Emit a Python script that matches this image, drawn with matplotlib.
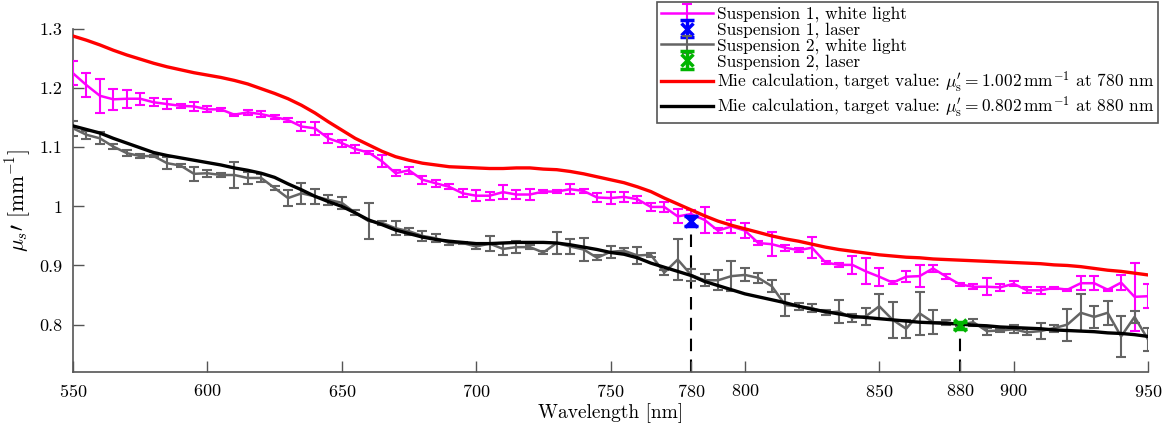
import numpy as np
from matplotlib import pyplot as plt

# Plot parameters
params = {"font.size": 13, "font.family": "serif", "font.serif": ["cmr10"],
          "mathtext.fontset": "cm", "axes.formatter.use_mathtext": True,
          "axes.unicode_minus": False}
plt.rcParams.update(params)

# wavelength grid of the measurements [nm]
wl = np.arange(550, 951, 5)

# Suspension 1, white light
s1_white = [1.225, 1.205, 1.187, 1.181, 1.182, 1.182, 1.176, 1.173, 1.170, 1.169,
            1.164, 1.164, 1.155, 1.159, 1.156, 1.151, 1.146, 1.135, 1.132, 1.115,
            1.107, 1.097, 1.091, 1.076, 1.056, 1.061, 1.045, 1.039, 1.033, 1.022,
            1.018, 1.018, 1.024, 1.020, 1.020, 1.025, 1.025, 1.029, 1.026, 1.015,
            1.014, 1.016, 1.012, 0.999, 0.999, 0.983, 0.987, 0.977, 0.959, 0.966,
            0.959, 0.938, 0.936, 0.930, 0.926, 0.930, 0.905, 0.901, 0.901, 0.890,
            0.881, 0.871, 0.881, 0.882, 0.895, 0.881, 0.868, 0.864, 0.864, 0.863,
            0.869, 0.858, 0.858, 0.862, 0.859, 0.870, 0.870, 0.859, 0.871, 0.847,
            0.848]
s1_white_err = [.020, .020, .029, .018, .015, .010, .007, .009, .003, .008,
                .005, .003, .002, .004, .005, .003, .004, .008, .011, .008,
                .006, .006, .003, .010, .005, .006, .007, .006, .004, .007,
                .009, .007, .012, .008, .010, .003, .002, .008, .003, .007,
                .010, .008, .006, .007, .008, .012, .006, .022, .004, .011,
                .012, .003, .020, .005, .004, .018, .003, .004, .015, .022,
                .015, .003, .009, .018, .006, .004, .003, .004, .014, .006,
                .004, .005, .006, .002, .002, .012, .012, .002, .013, .058,
                .020]

# Suspension 2, white light
s2_white = [1.132, 1.121, 1.115, 1.101, 1.090, 1.085, 1.085, 1.073, 1.069, 1.055,
            1.056, 1.053, 1.053, 1.048, 1.048, 1.031, 1.014, 1.022, 1.017, 1.011,
            1.006, 0.989, 0.975, 0.972, 0.963, 0.958, 0.950, 0.946, 0.938, 0.938,
            0.932, 0.937, 0.928, 0.931, 0.931, 0.922, 0.938, 0.932, 0.927, 0.913,
            0.923, 0.925, 0.917, 0.918, 0.888, 0.910, 0.884, 0.875, 0.875, 0.882,
            0.884, 0.879, 0.865, 0.833, 0.831, 0.828, 0.820, 0.822, 0.811, 0.814,
            0.831, 0.808, 0.793, 0.819, 0.804, 0.804, 0.800, 0.804, 0.789, 0.790,
            0.792, 0.787, 0.789, 0.794, 0.800, 0.820, 0.813, 0.820, 0.780, 0.813,
            0.775]
s2_white_err = [.013, .007, .010, .004, .005, .003, .002, .010, .003, .012,
                .006, .004, .022, .010, .006, .004, .013, .018, .013, .008,
                .010, .004, .030, .004, .012, .006, .008, .007, .004, .002,
                .004, .012, .010, .010, .003, .002, .018, .012, .020, .004,
                .010, .004, .015, .003, .004, .035, .010, .010, .017, .025,
                .011, .008, .010, .019, .006, .006, .004, .019, .007, .014,
                .021, .031, .015, .036, .020, .004, .003, .006, .006, .003,
                .007, .005, .013, .006, .027, .031, .018, .020, .035, .010,
                .020]

# laser measurements
laser_wl = [780, 880]
laser_val = [0.975, 0.799]
laser_err = [0.008, 0.006]

# Mie calculations [1/mm], same wavelength grid
mie_780 = [1.288, 1.281, 1.273, 1.264, 1.256, 1.249, 1.242, 1.236, 1.231, 1.226,
           1.222, 1.218, 1.213, 1.207, 1.199, 1.191, 1.182, 1.171, 1.158, 1.143,
           1.129, 1.115, 1.104, 1.093, 1.084, 1.078, 1.073, 1.070, 1.067, 1.066,
           1.065, 1.064, 1.064, 1.065, 1.065, 1.063, 1.062, 1.059, 1.055, 1.050,
           1.045, 1.040, 1.033, 1.025, 1.014, 1.004, 0.994, 0.984, 0.975, 0.968,
           0.962, 0.956, 0.950, 0.945, 0.941, 0.936, 0.931, 0.927, 0.924, 0.921,
           0.918, 0.916, 0.914, 0.913, 0.911, 0.910, 0.909, 0.908, 0.907, 0.906,
           0.905, 0.904, 0.903, 0.901, 0.900, 0.898, 0.895, 0.892, 0.890, 0.887,
           0.884]
mie_880 = [1.136, 1.130, 1.124, 1.115, 1.107, 1.099, 1.091, 1.086, 1.082, 1.078,
           1.074, 1.070, 1.065, 1.061, 1.056, 1.049, 1.038, 1.028, 1.017, 1.008,
           1.000, 0.989, 0.977, 0.969, 0.960, 0.954, 0.948, 0.944, 0.941, 0.939,
           0.937, 0.937, 0.938, 0.939, 0.939, 0.939, 0.938, 0.935, 0.931, 0.927,
           0.922, 0.919, 0.913, 0.904, 0.897, 0.890, 0.883, 0.873, 0.866, 0.859,
           0.852, 0.847, 0.842, 0.837, 0.831, 0.826, 0.822, 0.818, 0.814, 0.812,
           0.810, 0.808, 0.806, 0.804, 0.803, 0.802, 0.801, 0.799, 0.798, 0.796,
           0.795, 0.794, 0.793, 0.791, 0.790, 0.789, 0.788, 0.786, 0.785, 0.783,
           0.780]

xticks = [550, 600, 650, 700, 750, 780, 800, 850, 880, 900, 950]
yticks = [0.8, 0.9, 1.0, 1.1, 1.2, 1.3]
yticklabels = ['0.8', '0.9', '1', '1.1', '1.2', '1.3']

magenta = '#FF00FF'
gray = '#646464'
blue = '#0000FF'
green = '#00B400'
red = '#FF0000'
axcol = '#555555'

fig = plt.figure(figsize=(11.63, 4.26), dpi=100)
ax = fig.add_axes([0.0628, 0.127, 0.9243, 0.805])

# dashed guides down to the axis at the laser wavelengths
for w, v in zip(laser_wl, laser_val):
    ax.plot([w, w], [0.72, v], '--', color='black', lw=1.5, dashes=(6, 4), zorder=1)

h1 = ax.errorbar(wl, s1_white, yerr=s1_white_err, color=magenta, lw=1.8, elinewidth=1.5,
                 capsize=3.5, capthick=1.5, label='Suspension 1, white light', zorder=3)
h2 = ax.errorbar(laser_wl[0], laser_val[0], yerr=laser_err[0], fmt='x', color=blue, ms=8,
                 mew=2.5, elinewidth=2.5, capsize=5, capthick=2.5,
                 label='Suspension 1, laser', zorder=6)
h3 = ax.errorbar(wl, s2_white, yerr=s2_white_err, color=gray, lw=1.8, elinewidth=1.5,
                 capsize=3.5, capthick=1.5, label='Suspension 2, white light', zorder=3)
h4 = ax.errorbar(laser_wl[1], laser_val[1], yerr=laser_err[1], fmt='x', color=green, ms=8,
                 mew=2.5, elinewidth=2.5, capsize=5, capthick=2.5,
                 label='Suspension 2, laser', zorder=6)
h5, = ax.plot(wl, mie_780, color=red, lw=2.4, zorder=4,
              label=r'Mie calculation, target value: $\mu_\mathrm{s}^{\prime} = 1.002\,\mathrm{mm}^{-1}$ at 780 nm')
h6, = ax.plot(wl, mie_880, color='black', lw=2.4, zorder=4,
              label=r'Mie calculation, target value: $\mu_\mathrm{s}^{\prime} = 0.802\,\mathrm{mm}^{-1}$ at 880 nm')

ax.set_xlim((550, 950))
ax.set_ylim((0.72, 1.3))
ax.set_xticks(xticks)
ax.set_yticks(yticks)
ax.set_yticklabels(yticklabels)
ax.tick_params(direction='in', length=8, width=1, color=axcol, labelsize=13, pad=8)
for s in ('top', 'right'):
    ax.spines[s].set_visible(False)
for s in ('left', 'bottom'):
    ax.spines[s].set_color(axcol)
    ax.spines[s].set_linewidth(1.2)

ax.set_xlabel('Wavelength [nm]', fontsize=14, labelpad=2)
ax.set_ylabel(r"$\mu_s\prime$ $[\mathrm{mm}^{-1}]$", fontsize=15.5, labelpad=4)

lg = fig.legend(handles=[h1, h2, h3, h4, h5, h6], loc='upper right',
                bbox_to_anchor=(0.996, 0.995), fontsize=12.5, labelspacing=0.0,
                handlelength=3.0, handletextpad=0.2, borderpad=0.25, borderaxespad=0,
                fancybox=False, framealpha=1, edgecolor=axcol)
lg.get_frame().set_linewidth(1.2)

plt.savefig('out.png', dpi=100)
